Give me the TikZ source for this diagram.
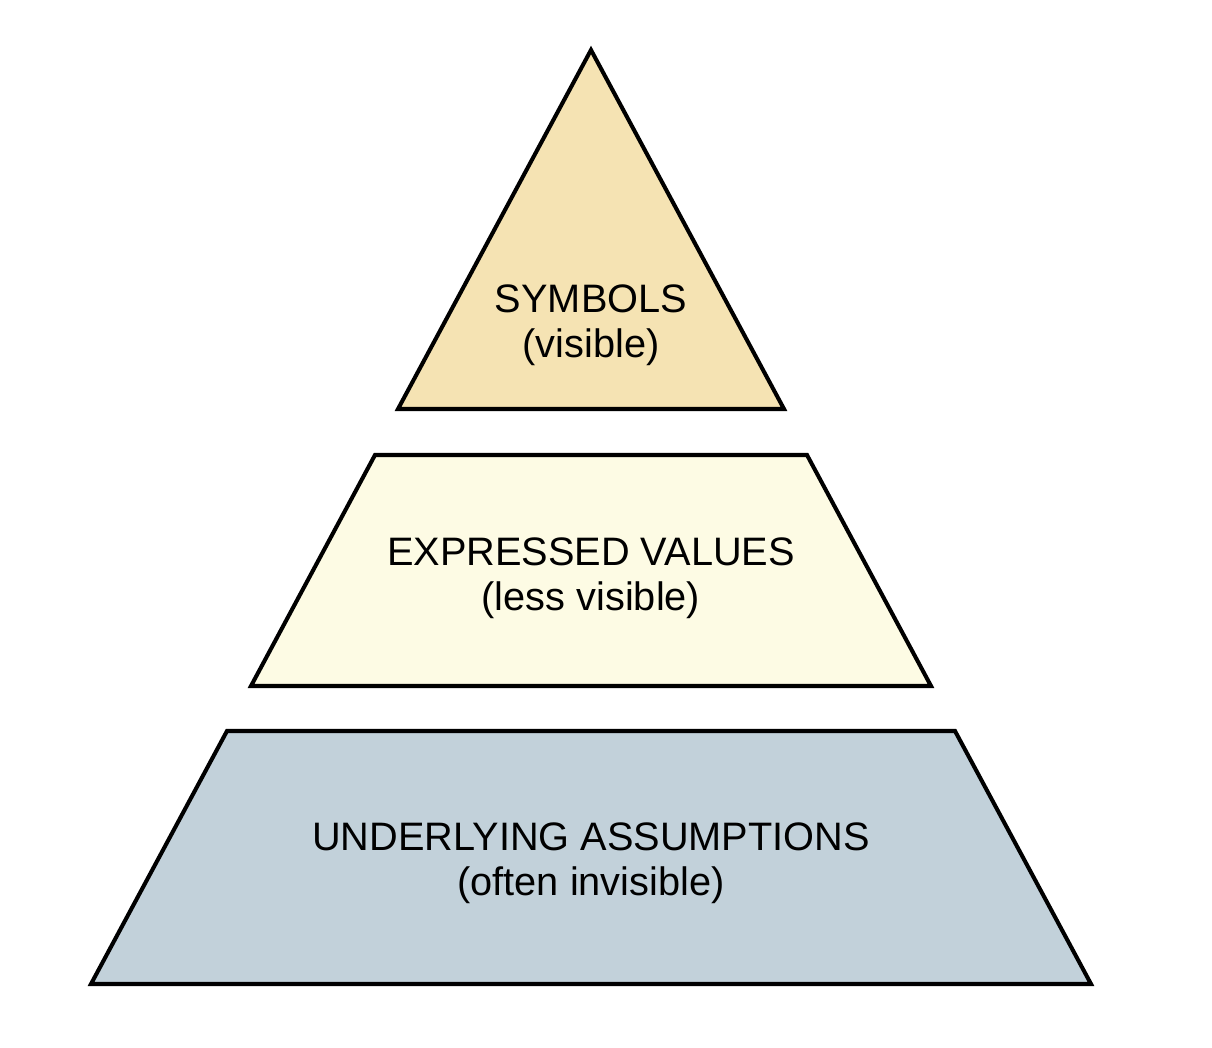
\documentclass[tikz,border=0pt]{standalone}
\usepackage{fontspec}
\setmainfont{Liberation Sans}
\usepackage{tikz}
\usetikzlibrary{positioning,calc}
\definecolor{pyTop}   {RGB}{245,227,179}
\definecolor{pyMid}   {RGB}{253,251,228}
\definecolor{pyBase}  {RGB}{194,209,218}

\begin{document}
\begin{tikzpicture}[
  every node/.style={font=\fontsize{11.3}{12.9}\selectfont},
  layer/.style={draw=black,line width=1.15pt,line join=miter},
  lbl/.style={align=center,inner sep=0pt}
]
\useasboundingbox (0,0) rectangle (12.12,10.48);
% top: triangle
\draw[layer,fill=pyTop]  (5.91,9.98) -- (7.84,6.39) -- (3.98,6.39) -- cycle;
% middle band
\draw[layer,fill=pyMid]  (3.75,5.93) -- (8.07,5.93) -- (9.31,3.62) -- (2.51,3.62) -- cycle;
% base band
\draw[layer,fill=pyBase] (2.27,3.17) -- (9.55,3.17) -- (10.91,0.64) -- (0.91,0.64) -- cycle;
% labels
\node[lbl] (sym) at (5.91,7.23) {SYMBOLS\\(visible)};
\node[lbl] (val) at (5.91,4.70) {EXPRESSED VALUES\\(less visible)};
\node[lbl] (ass) at (5.91,1.85) {UNDERLYING ASSUMPTIONS\\(often invisible)};
\end{tikzpicture}
\end{document}
